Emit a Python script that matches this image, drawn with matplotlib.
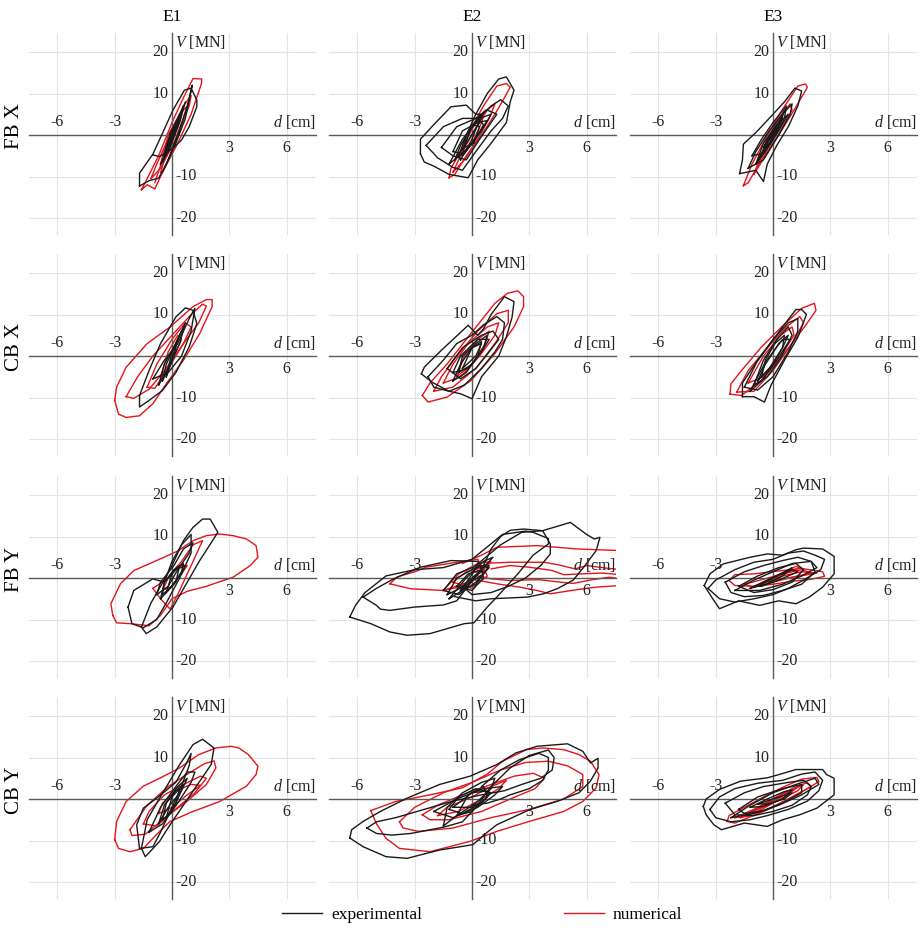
# Hysteresis loops: base shear V [MN] vs. displacement d [cm]
# rows = model/direction (FB X, CB X, FB Y, CB Y), columns = events E1..E3
# black = experimental, red = numerical. Vertices.

import matplotlib
matplotlib.use("Agg")
import matplotlib.pyplot as plt
from matplotlib.lines import Line2D

plt.rcParams['font.family'] = ['Liberation Serif', 'DejaVu Serif']
plt.rcParams['mathtext.fontset'] = 'custom'
plt.rcParams['mathtext.it'] = 'Liberation Serif:italic'
plt.rcParams['mathtext.rm'] = 'Liberation Serif'

col_titles = ['E1', 'E2', 'E3']
row_titles = ['FB X', 'CB X', 'FB Y', 'CB Y']
x_ticks = [-6, -3, 3, 6]
y_ticks = [-20, -10, 10, 20]
series_labels = ['experimental', 'numerical']

# ---- FB X ----
fbx_e1_exp = [
    [(-1.7, -12.3), (-1.7, -9.2), (-1.0, -4.6), (-0.5, 0.4), (0.05, 6.0), (0.65, 10.8), (1.0, 11.3), (1.3, 8.4),
     (1.3, 6.8), (0.9, 2.0), (0.5, -1.2), (0.05, -3.2), (-0.65, -5.2), (-1.0, -4.8)],
    [(-1.7, -12.3), (-1.2, -11.0), (-0.7, -10.4), (-0.3, -7.0), (0.2, -2.0), (0.7, 4.0), (1.06, 12.0), (0.8, 7.0),
     (0.3, 0.0), (-0.2, -6.0), (-0.5, -9.0)],
    [(-0.6, -7.0), (-0.2, -3.5), (0.3, 2.5), (0.6, 7.0), (0.4, 5.0), (-0.1, -1.0), (-0.4, -5.5), (-0.6, -7.0)],
    [(-0.4, -5.0), (0.0, -1.0), (0.3, 4.0), (0.1, 2.0), (-0.3, -2.5), (-0.4, -5.0)],
    [(-0.3, -4.0), (0.1, 0.0), (0.2, 3.0), (-0.1, 0.5), (-0.3, -4.0)],
    [(-0.2, -4.0), (0.2, 1.0), (0.4, 5.0), (0.1, 2.0), (-0.2, -4.0)],
    [(-0.5, -6.5), (-0.1, -3.0), (0.4, 3.0), (0.7, 8.0), (0.3, 3.0), (-0.3, -3.0), (-0.5, -6.5)],
]
fbx_e1_num = [
    [(-1.6, -13.2), (-1.3, -12.0), (-0.9, -13.0), (-0.5, -9.0), (0.3, -2.0), (1.0, 5.0), (1.55, 12.5), (1.55, 13.5),
     (1.1, 13.6), (0.6, 9.0), (0.0, 3.0), (-0.7, -5.0), (-1.3, -10.5), (-1.6, -13.2)],
    [(-1.1, -10.5), (-0.6, -8.0), (0.2, -1.0), (0.9, 7.0), (1.0, 9.5), (0.6, 7.0), (-0.1, 0.0), (-0.8, -7.0),
     (-1.1, -10.5)],
    [(-0.6, -7.0), (0.0, -3.0), (0.6, 4.0), (0.8, 7.0), (0.4, 5.0), (-0.2, 0.0), (-0.6, -7.0)],
    [(-0.9, -11.5), (-0.5, -6.0), (0.3, 2.0), (0.5, 5.0), (0.0, 0.0), (-0.6, -9.0)],
]
fbx_e2_exp = [
    [(-2.7, -4.5), (-2.5, -6.5), (-2.0, -7.5), (-1.2, -9.5), (-0.2, -10.3), (0.3, -6.0), (1.0, -2.0), (1.8, 3.0),
     (2.0, 8.0), (2.2, 10.8), (1.8, 14.0), (1.4, 13.5), (0.8, 10.0), (0.2, 5.0), (-0.3, 7.2), (-1.1, 6.8),
     (-2.0, 2.5), (-2.7, -1.0), (-2.7, -4.5)],
    [(-2.4, -2.5), (-1.8, -5.5), (-1.0, -7.8), (-0.5, -8.5), (0.2, -4.0), (1.0, 1.0), (1.6, 4.0), (1.9, 7.0),
     (1.5, 8.5), (1.0, 7.0), (0.3, 4.0), (-0.5, 4.0), (-1.5, 2.0), (-2.4, -2.5)],
    [(-1.6, -3.0), (-1.0, -5.0), (-0.3, -6.0), (0.4, -1.0), (1.0, 3.0), (1.3, 5.0), (0.8, 6.0), (0.2, 4.0),
     (-0.8, 2.0), (-1.6, -3.0)],
    [(-0.6, -6.0), (0.0, -1.0), (0.5, 5.0), (0.2, 5.0), (-0.3, 0.0), (-0.7, -5.0), (-0.6, -6.0)],
    [(-1.0, -4.0), (-0.4, -4.5), (0.3, 0.0), (0.8, 3.5), (0.3, 3.0), (-0.5, 1.0), (-1.0, -4.0)],
    [(-0.4, -3.0), (0.1, -2.0), (0.4, 2.0), (0.0, 2.5), (-0.4, -3.0)],
    [(-0.9, -6.0), (-0.3, -2.0), (0.4, 3.0), (0.6, 5.5), (0.0, 2.0), (-0.6, -2.5), (-0.9, -6.0)],
    [(-0.5, -5.0), (0.2, -1.0), (0.6, 2.5), (0.3, 4.0), (-0.3, 0.0), (-0.5, -5.0)],
    [(-1.2, -7.0), (-0.4, -4.0), (0.5, 1.0), (1.0, 5.0), (0.4, 4.0), (-0.5, -1.0), (-1.2, -7.0)],
]
fbx_e2_num = [
    [(-1.2, -10.3), (-0.9, -9.5), (-0.3, -5.0), (0.5, 0.0), (1.2, 5.0), (1.7, 9.0), (2.0, 11.5), (1.8, 12.4),
     (1.3, 11.8), (0.6, 7.0), (0.0, 2.0), (-0.6, -4.0), (-1.1, -8.0), (-1.2, -10.3)],
    [(-1.0, -9.0), (-0.4, -6.0), (0.3, -1.0), (0.9, 4.0), (1.2, 7.5), (0.8, 6.0), (0.1, 1.0), (-0.6, -5.0),
     (-1.0, -9.0)],
    [(-0.6, -5.0), (0.0, -2.0), (0.5, 3.0), (0.7, 6.0), (0.2, 3.0), (-0.4, -2.0), (-0.6, -5.0)],
]
fbx_e3_exp = [
    [(-1.75, -9.3), (-1.6, -6.0), (-1.55, -2.2), (-0.85, 0.8), (-0.1, 4.5), (0.6, 8.0), (1.15, 11.3), (1.5, 10.6),
     (1.3, 7.0), (0.8, 2.0), (0.2, -2.5), (-0.3, -7.0), (-0.5, -11.2), (-0.9, -8.5), (-1.4, -9.0), (-1.75, -9.3)],
    [(-1.3, -8.0), (-0.9, -4.0), (-0.2, 1.0), (0.5, 5.0), (1.0, 7.5), (0.9, 5.0), (0.3, 0.0), (-0.5, -6.0),
     (-1.3, -8.0)],
    [(-0.8, -6.0), (-0.3, -2.0), (0.3, 3.0), (0.6, 6.0), (0.4, 3.0), (-0.2, -2.0), (-0.8, -6.0)],
    [(-1.1, -5.0), (-0.6, -1.0), (0.0, 3.0), (0.7, 7.0), (0.6, 4.0), (0.0, -1.0), (-0.6, -4.5), (-1.1, -5.0)],
    [(-0.5, -4.0), (0.0, -1.0), (0.3, 2.0), (0.0, 1.0), (-0.5, -4.0)],
    [(-0.9, -7.0), (-0.4, -4.0), (0.3, 1.0), (0.8, 5.0), (0.3, 3.0), (-0.5, -2.0), (-0.9, -7.0)],
    [(-0.5, -3.0), (0.0, 0.0), (0.5, 4.0), (0.1, 2.0), (-0.5, -3.0)],
]
fbx_e3_num = [
    [(-1.55, -12.2), (-1.3, -11.5), (-0.6, -6.0), (0.3, 0.0), (1.1, 6.0), (1.8, 11.5), (1.7, 12.3), (1.3, 11.8),
     (0.4, 5.5), (-0.4, -1.0), (-1.1, -7.0), (-1.55, -12.2)],
    [(-1.0, -9.5), (-0.4, -5.0), (0.4, 1.0), (1.0, 6.0), (0.9, 7.5), (0.3, 4.0), (-0.4, -2.0), (-1.0, -9.5)],
    [(-0.7, -6.0), (-0.1, -2.0), (0.5, 3.0), (0.4, 4.5), (-0.2, 0.0), (-0.7, -6.0)],
]

# ---- CB X ----
cbx_e1_exp = [
    [(-1.7, -9.5), (-1.7, -12.3), (-1.2, -10.7), (-0.5, -8.3), (0.2, -4.0), (0.9, 2.2), (1.3, 7.8), (1.1, 11.0),
     (0.7, 11.6), (0.2, 9.4), (-0.6, 3.0), (-1.2, -3.5), (-1.7, -9.5)],
    [(-1.0, -5.5), (-0.2, -4.0), (0.5, 0.0), (1.0, 6.0), (1.2, 11.5), (0.9, 9.0), (0.3, 3.0), (-0.4, -1.0),
     (-1.0, -5.5)],
    [(-0.5, -6.0), (-0.1, -2.0), (0.3, 4.0), (0.5, 6.0), (0.2, 3.0), (-0.3, -2.0), (-0.5, -6.0)],
    [(-0.3, -5.0), (0.1, 0.0), (0.3, 4.0), (0.0, 1.0), (-0.3, -5.0)],
    [(-0.7, -7.0), (-0.2, -3.0), (0.4, 3.0), (0.7, 8.0), (0.3, 4.0), (-0.4, -2.0), (-0.7, -7.0)],
]
cbx_e1_num = [
    [(-3.0, -10.7), (-2.8, -14.0), (-2.4, -14.8), (-1.7, -14.4), (-1.0, -11.5), (-0.3, -6.7), (0.6, -1.0),
     (1.45, 5.4), (2.1, 11.9), (2.1, 13.6), (1.8, 13.6), (1.1, 11.9), (-0.1, 7.0), (-1.3, 3.0), (-2.4, -2.7),
     (-2.9, -7.5), (-3.0, -10.7)],
    [(-2.4, -9.8), (-2.0, -10.2), (-1.2, -8.0), (-0.3, -3.0), (0.6, 3.0), (1.4, 8.0), (1.8, 12.0), (1.6, 12.5),
     (1.0, 10.0), (0.0, 5.0), (-1.0, 0.0), (-1.8, -5.0), (-2.4, -9.8)],
    [(-1.3, -7.5), (-0.9, -7.8), (-0.2, -3.0), (0.6, 3.0), (1.0, 7.0), (0.7, 8.0), (0.0, 4.0), (-0.8, -2.0),
     (-1.3, -7.5)],
    [(-0.6, -5.0), (0.0, -1.0), (0.5, 4.0), (0.3, 5.0), (-0.2, 1.0), (-0.6, -5.0)],
]
cbx_e2_exp = [
    [(-2.65, -4.3), (-2.5, -2.7), (-1.6, 1.4), (-0.2, 7.4), (0.3, 5.0), (0.6, 6.5), (1.0, 10.0), (1.7, 14.3),
     (2.2, 13.1), (2.1, 9.4), (1.8, 4.6), (1.4, 0.0), (0.5, -5.0), (0.0, -10.3), (-0.6, -9.1), (-1.2, -8.5),
     (-2.1, -6.3), (-2.65, -4.3)],
    [(-2.3, -5.0), (-1.5, -1.0), (-0.8, 3.0), (0.0, 5.0), (0.6, 7.5), (1.3, 9.5), (1.7, 8.0), (1.6, 4.0),
     (1.2, 1.0), (0.5, -3.0), (-0.4, -7.0), (-1.2, -8.5), (-2.0, -7.5), (-2.3, -5.0)],
    [(-1.3, -3.0), (-0.6, -5.5), (0.2, -3.0), (0.9, 1.0), (1.4, 4.0), (1.1, 6.0), (0.5, 5.0), (-0.5, 2.0),
     (-1.3, -3.0)],
    [(-0.7, -4.0), (0.0, -2.0), (0.6, 2.0), (0.8, 5.0), (0.2, 3.0), (-0.5, 0.0), (-0.7, -4.0)],
    [(-1.0, -6.0), (-0.3, -4.0), (0.3, 0.0), (0.5, 3.5), (0.0, 2.0), (-0.6, -2.0), (-1.0, -6.0)],
    [(-1.0, -4.0), (-0.2, -3.0), (0.5, 1.0), (0.9, 4.0), (0.3, 4.0), (-0.6, 0.0), (-1.0, -4.0)],
    [(-0.5, -3.0), (0.2, 0.0), (0.5, 3.0), (0.0, 2.0), (-0.5, -3.0)],
]
cbx_e2_num = [
    [(-2.6, -9.5), (-2.3, -11.1), (-1.3, -9.9), (-0.05, -5.9), (1.2, 0.6), (2.2, 7.0), (2.7, 11.9), (2.7, 14.3),
     (2.4, 15.7), (1.85, 15.1), (1.2, 12.7), (-0.2, 4.6), (-1.3, -1.9), (-2.2, -6.5), (-2.6, -9.5)],
    [(-2.0, -8.5), (-1.0, -7.5), (0.2, -3.0), (1.2, 3.0), (1.9, 8.0), (1.9, 11.0), (1.3, 10.2), (0.3, 6.0),
     (-0.8, 0.0), (-1.6, -5.0), (-2.0, -8.5)],
    [(-1.5, -6.5), (-0.6, -5.0), (0.4, 0.0), (1.2, 5.0), (1.4, 8.0), (0.8, 7.0), (-0.2, 3.0), (-1.0, -2.0),
     (-1.5, -6.5)],
    [(-0.8, -5.0), (0.0, -2.0), (0.7, 3.0), (0.9, 6.0), (0.3, 4.0), (-0.4, 0.0), (-0.8, -5.0)],
]
cbx_e3_exp = [
    [(-1.6, -9.8), (-1.0, -9.8), (-0.45, -11.1), (-0.1, -7.0), (0.6, -1.0), (1.3, 4.5), (1.75, 10.0), (1.5, 11.2),
     (1.2, 11.2), (0.5, 7.0), (-0.3, 2.0), (-1.1, -3.0), (-1.6, -6.5), (-1.6, -9.8)],
    [(-1.5, -7.5), (-0.8, -8.2), (0.0, -5.0), (0.8, 1.0), (1.3, 6.0), (1.3, 9.0), (0.8, 8.0), (0.0, 4.0),
     (-0.8, -1.0), (-1.5, -7.5)],
    [(-1.0, -7.0), (-0.3, -5.0), (0.4, -0.5), (1.0, 5.0), (0.8, 7.0), (0.2, 4.0), (-0.5, -1.0), (-1.0, -7.0)],
    [(-0.6, -5.0), (0.0, -2.0), (0.5, 2.0), (0.6, 5.0), (0.1, 3.0), (-0.4, -1.0), (-0.6, -5.0)],
    [(-0.8, -6.0), (-0.2, -3.0), (0.5, 2.0), (0.8, 5.0), (0.3, 3.0), (-0.4, -2.0), (-0.8, -6.0)],
    [(-1.2, -8.5), (-0.6, -6.0), (0.2, -1.0), (0.9, 4.0), (0.5, 4.0), (-0.4, -1.5), (-1.2, -8.5)],
]
cbx_e3_num = [
    [(-2.25, -9.2), (-1.65, -9.5), (-0.6, -5.9), (0.45, -0.2), (1.65, 7.0), (2.25, 11.0), (2.17, 12.7),
     (1.5, 11.5), (0.45, 7.0), (-0.6, 2.2), (-1.65, -3.5), (-2.2, -6.7), (-2.25, -9.2)],
    [(-1.9, -8.7), (-1.0, -8.5), (0.0, -3.5), (1.0, 3.0), (1.6, 8.0), (1.4, 9.5), (0.7, 7.0), (-0.3, 2.0),
     (-1.3, -3.5), (-1.9, -8.7)],
    [(-1.3, -6.5), (-0.5, -5.0), (0.4, 0.0), (1.1, 5.0), (1.0, 7.0), (0.4, 5.0), (-0.5, 0.0), (-1.3, -6.5)],
]

# ---- FB Y ----
fby_e1_exp = [
    [(-1.6, -11.8), (-1.35, -13.4), (-0.8, -11.8), (0.05, -7.0), (0.75, -1.4), (1.45, 4.2), (2.4, 11.0),
     (2.0, 14.2), (1.6, 14.2), (1.1, 12.2), (0.6, 9.0), (0.0, 3.0), (-0.6, -2.0), (-1.1, -6.0), (-1.6, -11.8)],
    [(-2.3, -7.0), (-2.1, -11.0), (-1.5, -12.0), (-0.8, -10.0), (-0.3, -6.0), (0.4, 0.0), (1.0, 6.0),
     (1.0, 10.5), (0.5, 8.0), (0.0, 4.0), (-0.4, -1.0), (-1.0, -0.2), (-2.0, -3.0), (-2.3, -7.0)],
    [(-0.8, -4.0), (-0.2, -2.0), (0.3, 2.0), (0.9, 6.0), (1.1, 8.5), (0.6, 7.0), (0.1, 3.0), (-0.6, -1.0),
     (-0.8, -4.0)],
    [(-0.5, -4.0), (0.0, -2.0), (0.5, 1.5), (0.6, 3.5), (0.1, 2.0), (-0.4, -1.0), (-0.5, -4.0)],
    [(-0.3, -3.5), (0.2, -1.0), (0.4, 3.0), (0.0, 1.0), (-0.3, -3.5)],
    [(-0.6, -5.0), (-0.2, -3.0), (0.4, 0.5), (0.7, 3.0), (0.2, 2.0), (-0.4, -1.0), (-0.6, -5.0)],
]
fby_e1_num = [
    [(-3.1, -9.0), (-2.9, -10.8), (-2.2, -11.0), (-1.2, -11.5), (-0.6, -9.0), (0.0, -5.0), (0.8, -3.2),
     (1.8, -2.0), (3.2, 0.2), (4.1, 3.0), (4.5, 5.0), (4.4, 7.8), (3.9, 9.4), (3.2, 10.2), (2.5, 10.6),
     (1.8, 10.2), (1.1, 9.0), (0.3, 6.5), (-1.2, 3.4), (-2.0, 1.8), (-2.7, -1.4), (-3.2, -6.2), (-3.1, -9.0)],
    [(-1.0, -2.5), (-0.6, -5.0), (-0.1, -7.5), (0.3, -4.0), (0.8, 1.0), (1.3, 6.0), (1.6, 9.0), (1.1, 8.0),
     (0.5, 4.0), (-0.2, 0.0), (-1.0, -2.5)],
    [(-0.5, -3.0), (0.0, -2.0), (0.5, 1.0), (0.8, 3.0), (0.3, 3.0), (-0.2, 0.0), (-0.5, -3.0)],
]
fby_e2_exp = [
    [(-6.4, -9.4), (-5.3, -11.0), (-4.3, -13.0), (-3.4, -13.8), (-2.2, -13.4), (-0.4, -11.0), (0.1, -10.8),
     (0.8, -7.0), (1.3, -4.6), (2.4, 1.0), (3.2, 5.5), (4.0, 8.2), (4.0, 9.5), (3.2, 11.0), (2.8, 11.3),
     (1.6, 10.5), (0.8, 7.5), (0.0, 4.5), (-1.5, 2.5), (-3.0, 2.0), (-4.5, 0.5), (-5.6, -3.5), (-6.1, -6.6),
     (-6.4, -9.4)],
    [(0.2, 3.0), (1.5, 8.0), (2.6, 11.0), (3.7, 11.4), (5.15, 13.4), (6.0, 10.5), (6.4, 9.4), (6.7, 9.8),
     (6.5, 6.6), (5.85, 2.6), (5.3, -0.5), (4.5, -2.5), (3.75, -3.8), (2.9, -4.6), (2.0, -4.8), (1.0, -5.0),
     (0.2, -5.5), (-0.9, -4.5)],
    [(-0.5, -2.0), (0.5, 2.0), (1.0, 7.0), (1.5, 10.0), (2.0, 11.5), (2.7, 11.8), (3.7, 11.4), (4.1, 8.2),
     (4.1, 5.8), (3.6, 3.0), (2.8, 0.0), (1.9, -2.0), (1.0, -3.5), (0.0, -4.0), (-0.5, -2.0)],
    [(-5.7, -4.6), (-5.0, -6.6), (-4.8, -7.5), (-4.3, -7.8), (-3.0, -7.0), (-1.5, -6.5), (-0.8, -5.5),
     (-0.3, -2.5), (0.5, 2.0), (0.3, 4.0), (-1.1, 4.2), (-2.7, 2.6), (-4.1, -0.2), (-5.0, -2.5), (-5.7, -4.6)],
    [(-1.2, -5.0), (-0.5, -3.0), (0.5, 2.0), (1.1, 5.0), (0.6, 4.0), (-0.3, 0.0), (-1.2, -5.0)],
    [(-1.5, -3.0), (-0.7, -4.0), (0.2, -1.0), (0.9, 2.5), (0.3, 3.0), (-0.8, 1.0), (-1.5, -3.0)],
    [(-0.8, -2.0), (0.0, -3.0), (0.6, 0.0), (0.5, 2.0), (-0.2, 1.0), (-0.8, -2.0)],
    [(-1.3, -4.0), (-0.4, -2.0), (0.6, 1.0), (0.9, 3.0), (0.2, 2.5), (-0.8, 0.0), (-1.3, -4.0)],
    [(-0.6, -3.0), (0.2, -1.5), (0.7, 1.5), (0.1, 1.5), (-0.6, -3.0)],
]
fby_e2_num = [
    [(-4.3, -1.4), (-3.9, 0.3), (-3.0, 1.5), (-2.4, 2.6), (-0.8, 3.8), (0.3, 4.5), (0.6, 2.0), (-0.2, -1.0),
     (-1.5, -3.0), (-3.2, -2.6), (-4.3, -1.4)],
    [(-0.5, 3.5), (0.5, 5.5), (1.3, 7.4), (3.4, 7.8), (5.5, 7.0), (7.8, 6.6)],
    [(7.8, 2.0), (7.0, 2.4), (6.0, 3.0), (5.4, 2.2), (4.5, 3.2), (3.75, 3.8), (2.0, 3.8), (1.0, 3.6), (0.4, 2.8),
     (0.0, 1.5)],
    [(0.2, -0.5), (1.3, -1.4), (2.5, -2.2), (3.4, -3.0), (4.1, -3.8), (5.5, -2.8), (6.5, -2.2), (7.8, -1.8)],
    [(7.8, -0.2), (7.2, 0.2), (6.3, -0.4), (5.3, -1.3), (4.6, -1.0), (3.5, -0.4), (2.0, -0.6), (1.0, -0.2),
     (0.3, 0.5)],
    [(7.8, 0.8), (6.8, 1.2), (5.8, 1.0), (4.8, 0.8), (4.2, 1.8), (3.0, 2.6), (2.0, 3.0), (1.0, 2.2)],
    [(-1.5, -3.0), (-0.5, -2.0), (0.5, 1.5), (1.0, 4.0), (0.3, 3.5), (-0.7, 1.0), (-1.5, -3.0)],
    [(-1.0, -1.0), (0.0, -2.5), (0.8, 0.5), (0.6, 2.5), (-0.3, 1.5), (-1.0, -1.0)],
]
fby_e3_exp = [
    [(-3.6, -1.8), (-3.3, 1.0), (-2.6, 3.4), (-1.2, 5.0), (-0.3, 5.8), (0.5, 5.5), (1.2, 6.8), (1.6, 7.2),
     (2.6, 7.0), (3.2, 5.2), (3.2, 1.0), (2.6, -2.2), (1.9, -4.6), (1.2, -6.2), (0.3, -5.5), (-0.7, -6.6),
     (-1.8, -5.5), (-2.8, -7.4), (-3.1, -5.4), (-3.6, -1.8)],
    [(-3.4, -2.5), (-3.0, -0.5), (-2.0, 2.0), (-1.0, 3.8), (0.0, 4.5), (0.8, 6.0), (1.6, 6.5), (2.2, 5.5),
     (2.7, 4.5), (2.5, 2.0), (1.6, -0.5), (0.8, -2.5), (0.0, -4.0), (-1.0, -5.0), (-2.0, -5.8), (-2.8, -5.0),
     (-3.4, -2.5)],
    [(-2.5, -1.0), (-1.5, 1.5), (-0.5, 3.0), (0.5, 4.2), (1.3, 5.0), (2.0, 4.0), (2.2, 1.5), (1.5, -1.5),
     (0.5, -3.0), (-0.5, -4.2), (-1.5, -4.5), (-2.2, -3.5), (-2.5, -1.0)],
    [(-1.8, -2.0), (-0.8, 0.5), (0.3, 2.5), (1.2, 3.5), (1.6, 2.0), (1.0, -1.0), (0.0, -2.8), (-1.0, -3.5),
     (-1.8, -2.0)],
    [(-1.2, -2.5), (-0.3, -0.5), (0.6, 1.5), (1.0, 2.5), (0.5, 0.5), (-0.4, -1.5), (-1.2, -2.5)],
    [(-0.8, -2.0), (0.2, 0.5), (1.0, 2.0), (1.3, 1.5), (0.3, -0.5), (-0.6, -2.0), (-0.8, -2.0)],
    [(-2.0, -3.0), (-1.0, -0.5), (0.0, 1.5), (1.0, 3.5), (2.0, 4.0), (2.3, 2.5), (1.5, 0.5), (0.5, -1.5),
     (-0.7, -3.0), (-2.0, -3.0)],
]
fby_e3_num = [
    [(-2.3, -0.6), (-2.0, 0.8), (-1.0, 1.0), (0.5, 1.8), (1.5, 2.3), (2.6, 1.5), (2.7, 0.4), (2.0, -0.3),
     (1.0, -0.8), (0.0, -1.5), (-1.0, -2.0), (-2.0, -1.8), (-2.3, -0.6)],
    [(-1.5, -1.5), (-0.5, -0.3), (0.5, 1.0), (1.5, 2.0), (2.0, 1.2), (1.0, 0.2), (0.0, -1.0), (-1.0, -2.2),
     (-1.5, -1.5)],
    [(-1.0, -2.0), (0.0, 0.0), (1.2, 2.8), (1.4, 2.5), (0.3, 0.5), (-0.6, -1.5), (-1.0, -2.0)],
    [(-0.5, -1.0), (0.5, 0.5), (1.5, 1.5), (2.3, 1.2), (1.2, 0.3), (0.0, -0.6), (-0.5, -1.0)],
]

# ---- CB Y ----
cby_e1_exp = [
    [(-1.6, -11.9), (-1.4, -13.9), (-1.15, -12.7), (-0.65, -10.2), (-0.1, -6.2), (1.1, 1.9), (2.05, 8.3),
     (2.2, 12.3), (1.6, 14.4), (1.1, 13.1), (0.4, 8.3), (-0.65, 0.2), (-1.3, -5.0), (-1.6, -11.9)],
    [(-1.7, -11.9), (-1.85, -6.2), (-1.5, -2.2), (-0.8, 0.2), (0.2, 4.0), (0.8, 9.0), (1.0, 11.0), (0.9, 8.0),
     (0.4, 2.0), (-0.2, -4.0), (-0.6, -8.0), (-1.0, -11.5), (-1.7, -11.9)],
    [(-1.2, -8.0), (-0.5, -6.0), (0.3, -1.0), (1.0, 4.0), (1.2, 6.5), (0.8, 6.5), (0.2, 3.0), (-0.6, -2.0),
     (-1.2, -8.0)],
    [(-0.5, -5.0), (0.0, -3.0), (0.4, 1.0), (0.6, 3.5), (0.2, 2.0), (-0.3, -1.0), (-0.5, -5.0)],
    [(-0.3, -4.5), (0.2, -1.0), (0.4, 2.5), (0.0, 0.5), (-0.3, -4.5)],
    [(-0.7, -6.0), (-0.2, -2.0), (0.5, 2.0), (0.8, 5.0), (0.3, 3.0), (-0.4, -1.5), (-0.7, -6.0)],
]
cby_e1_num = [
    [(-3.0, -9.8), (-2.8, -11.9), (-2.2, -12.7), (-1.5, -11.9), (-0.8, -8.5), (-0.1, -5.4), (1.1, -3.0),
     (2.5, -0.6), (3.9, 3.1), (4.4, 5.9), (4.5, 7.9), (4.0, 10.7), (3.5, 12.3), (3.1, 12.7), (2.3, 12.3),
     (1.4, 10.7), (0.4, 7.5), (-0.6, 5.1), (-1.5, 3.1), (-2.4, -0.6), (-2.9, -5.4), (-3.0, -9.8)],
    [(-2.2, -7.4), (-2.1, -8.8), (-1.4, -8.5), (-0.5, -5.0), (0.8, -0.5), (1.8, 3.5), (2.3, 7.5), (2.2, 9.2),
     (1.7, 8.5), (0.8, 6.0), (-0.2, 3.0), (-1.3, -1.5), (-2.2, -7.4)],
    [(-1.5, -6.0), (-0.8, -6.5), (0.3, -2.0), (1.2, 1.5), (1.8, 5.0), (1.5, 5.5), (0.6, 3.5), (-0.4, 1.0),
     (-1.2, -3.0), (-1.5, -6.0)],
    [(-0.7, -3.5), (0.0, -2.0), (0.8, 1.0), (1.5, 3.3), (1.0, 3.5), (0.2, 2.0), (-0.5, -1.0), (-0.7, -3.5)],
]
cby_e2_exp = [
    [(-6.4, -9.4), (-5.7, -11.5), (-4.5, -13.9), (-3.4, -14.3), (-1.7, -12.3), (0.05, -11.0), (0.8, -8.0),
     (1.3, -6.2), (3.0, -2.6), (4.5, -0.5), (5.6, 1.5), (6.2, 4.3), (6.6, 7.5), (6.6, 9.8), (6.2, 8.7),
     (5.8, 11.5), (5.0, 13.3), (3.4, 12.7), (2.3, 11.1), (1.3, 8.3), (-0.1, 5.5), (-1.7, 3.5), (-3.4, 0.2),
     (-4.8, -3.0), (-5.7, -5.4), (-6.3, -7.4), (-6.4, -9.4)],
    [(-5.5, -7.0), (-5.0, -8.3), (-4.2, -8.7), (-3.2, -8.3), (-1.5, -6.8), (-0.5, -5.5), (0.2, -2.0), (1.0, 3.0),
     (2.0, 7.5), (3.0, 10.5), (4.0, 11.8), (4.3, 10.0), (4.2, 7.0), (3.6, 5.0), (2.6, 3.5), (1.7, 2.0),
     (0.5, 1.0), (-1.0, -0.5), (-2.5, -2.5), (-4.0, -4.5), (-5.0, -5.5), (-5.5, -7.0)],
    [(0.5, 3.0), (1.5, 7.0), (2.5, 9.5), (3.5, 11.0), (4.0, 10.0), (4.0, 7.0), (3.7, 4.5), (3.0, 2.5),
     (2.0, 1.0), (1.5, 0.0), (0.8, -1.0), (0.0, -1.5)],
    [(-1.5, -6.5), (-0.8, -4.0), (0.2, -1.0), (1.0, 2.5), (1.2, 5.0), (0.5, 4.0), (-0.5, 1.5), (-1.3, -2.0),
     (-1.5, -6.5)],
    [(-1.2, -2.5), (-0.5, -3.5), (0.5, -1.0), (1.0, 1.5), (0.2, 2.5), (-0.7, 0.5), (-1.2, -2.5)],
    [(-0.8, -4.0), (0.0, -3.0), (0.8, 0.5), (0.6, 3.0), (-0.2, 1.0), (-0.8, -4.0)],
    [(-1.0, -2.0), (0.0, -2.0), (0.7, 0.0), (0.9, 2.0), (0.0, 1.5), (-1.0, -2.0)],
    [(-2.0, -3.0), (-1.0, -4.5), (0.3, -2.0), (1.2, 1.0), (1.6, 3.0), (0.6, 2.5), (-0.8, 0.0), (-2.0, -3.0)],
]
cby_e2_num = [
    [(-5.3, -2.8), (-5.0, -6.0), (-4.5, -9.5), (-3.8, -11.9), (-2.2, -12.7), (-0.1, -10.2), (1.3, -7.8),
     (3.0, -5.4), (4.8, -3.0), (5.8, -0.6), (6.5, 2.7), (6.65, 5.9), (6.2, 9.1), (5.6, 10.7), (4.8, 11.9),
     (3.7, 12.3), (2.85, 11.9), (1.6, 9.1), (0.8, 6.0), (-0.5, 2.7), (-2.2, 1.0), (-4.0, -0.6), (-5.3, -2.8)],
    [(-3.8, -5.5), (-3.6, -7.0), (-2.8, -7.8), (-1.0, -7.0), (1.0, -4.5), (3.0, -2.5), (4.8, 0.0), (5.8, 3.0),
     (5.8, 5.9), (5.0, 8.0), (4.0, 9.1), (2.8, 8.8), (1.5, 7.0), (0.0, 4.0), (-1.5, 1.5), (-3.0, -2.0),
     (-3.8, -5.5)],
    [(-2.6, -3.8), (-2.2, -5.0), (-1.2, -5.0), (0.5, -3.0), (2.0, 0.0), (3.3, 2.5), (3.8, 5.0), (3.2, 6.2),
     (2.2, 5.5), (1.0, 3.5), (-0.5, 1.0), (-1.8, -1.5), (-2.6, -3.8)],
    [(-1.8, -4.0), (-1.3, -2.0), (0.0, 0.5), (1.0, 3.0), (1.8, 4.5), (1.4, 2.5), (0.5, 0.0), (-0.7, -3.0),
     (-1.8, -4.0)],
]
cby_e3_exp = [
    [(-3.65, -1.8), (-3.5, 0.0), (-2.8, 2.3), (-1.7, 4.3), (-0.3, 5.1), (0.4, 6.0), (1.2, 7.1), (2.6, 7.1),
     (2.8, 5.9), (3.2, 5.0), (3.2, 1.0), (2.3, -2.2), (1.4, -3.8), (0.5, -5.0), (-0.3, -6.6), (-1.5, -5.8),
     (-2.7, -7.4), (-3.1, -6.2), (-3.5, -3.8), (-3.65, -1.8)],
    [(-3.3, -2.5), (-2.8, 0.5), (-2.0, 2.5), (-0.8, 3.8), (0.5, 4.5), (1.5, 6.0), (2.2, 6.5), (2.6, 4.5),
     (2.4, 2.0), (1.8, -0.5), (0.8, -2.5), (-0.3, -4.0), (-1.2, -5.0), (-2.2, -5.5), (-3.0, -4.5), (-3.3, -2.5)],
    [(-2.5, -1.0), (-1.5, 1.5), (-0.5, 3.0), (0.8, 4.0), (1.6, 4.5), (2.0, 3.0), (1.8, 1.0), (1.0, -1.5),
     (0.0, -3.0), (-1.0, -4.0), (-2.0, -3.8), (-2.5, -1.0)],
    [(-1.8, -2.5), (-0.8, 0.5), (0.5, 2.5), (1.5, 3.5), (1.5, 1.5), (0.5, -1.0), (-0.5, -2.8), (-1.5, -3.5),
     (-1.8, -2.5)],
    [(-1.2, -2.0), (-0.3, 0.0), (0.6, 1.8), (1.0, 2.2), (0.5, 0.0), (-0.5, -1.8), (-1.2, -2.0)],
    [(-0.8, -1.2), (0.2, 0.3), (1.0, 1.5), (0.6, 0.0), (-0.3, -1.2), (-0.8, -1.2)],
    [(-2.2, -4.5), (-1.2, -1.5), (0.0, 1.5), (1.2, 3.5), (2.2, 5.0), (2.4, 3.5), (1.5, 1.0), (0.3, -1.5),
     (-1.0, -3.5), (-2.2, -4.5)],
]
cby_e3_num = [
    [(-2.4, -5.4), (-2.3, -4.0), (-1.5, -2.0), (-0.5, 0.5), (0.5, 2.8), (1.5, 4.8), (2.3, 5.2), (2.4, 4.2),
     (1.8, 2.5), (0.8, 0.0), (-0.3, -2.5), (-1.3, -4.5), (-2.0, -5.8), (-2.4, -5.4)],
    [(-2.0, -4.5), (-1.0, -2.5), (0.0, 0.0), (1.0, 2.5), (1.8, 4.0), (2.0, 3.0), (1.2, 1.0), (0.0, -2.0),
     (-1.0, -4.0), (-2.0, -4.5)],
    [(-1.3, -3.5), (-0.3, -1.0), (0.8, 1.5), (1.3, 3.0), (0.8, 1.0), (-0.3, -1.5), (-1.3, -3.5)],
    [(-0.8, -2.5), (0.0, 0.0), (0.8, 2.0), (0.4, 0.5), (-0.8, -2.5)],
    [(-1.7, -4.5), (-0.5, -1.5), (0.5, 1.0), (1.6, 3.5), (1.3, 2.0), (0.2, -0.5), (-0.8, -3.0), (-1.7, -4.5)],
]

exp_grid = [[fbx_e1_exp, fbx_e2_exp, fbx_e3_exp],
            [cbx_e1_exp, cbx_e2_exp, cbx_e3_exp],
            [fby_e1_exp, fby_e2_exp, fby_e3_exp],
            [cby_e1_exp, cby_e2_exp, cby_e3_exp]]
num_grid = [[fbx_e1_num, fbx_e2_num, fbx_e3_num],
            [cbx_e1_num, cbx_e2_num, cbx_e3_num],
            [fby_e1_num, fby_e2_num, fby_e3_num],
            [cby_e1_num, cby_e2_num, cby_e3_num]]

W, H = 924, 933
EXP_C = '#1a1a1a'
NUM_C = '#e3141b'
AX_C = '#5a5a5a'
TXT_C = '#222222'
FS = 11.5

fig = plt.figure(figsize=(W / 100, H / 100), dpi=100)

x0s = [172, 472, 773]       # pixel position of the origin, columns
y0s = [135, 356, 578, 799]  # rows
xlim = (-7.5, 7.55)
ylim = (-24.0, 24.5)
px_x = 19.1   # px per cm
px_y = 4.15   # px per MN

for r in range(4):
    for c in range(3):
        left = x0s[c] + xlim[0] * px_x
        top = y0s[r] - ylim[1] * px_y
        w = (xlim[1] - xlim[0]) * px_x
        h = (ylim[1] - ylim[0]) * px_y
        ax = fig.add_axes([left / W, 1 - (top + h) / H, w / W, h / H])
        ax.set_xlim(*xlim)
        ax.set_ylim(*ylim)
        ax.patch.set_alpha(0)
        for s in ['top', 'right']:
            ax.spines[s].set_visible(False)
        ax.spines['left'].set_position(('data', 0))
        ax.spines['bottom'].set_position(('data', 0))
        for s in ['left', 'bottom']:
            ax.spines[s].set_color(AX_C)
            ax.spines[s].set_linewidth(1.0)
        ax.set_xticks(x_ticks)
        ax.set_yticks(y_ticks)
        ax.tick_params(length=0, labelbottom=False, labelleft=False)
        ax.grid(True, color='#e4e4e4', lw=0.8)
        ax.set_axisbelow(True)

        for loop in exp_grid[r][c]:
            ax.plot([p[0] for p in loop], [p[1] for p in loop], color=EXP_C, lw=1.0, zorder=3)
        for loop in num_grid[r][c]:
            ax.plot([p[0] for p in loop], [p[1] for p in loop], color=NUM_C, lw=1.0, zorder=2)

        # tick labels: negatives above / right of the axis, positives below / left
        for t in x_ticks:
            if t < 0:
                ax.text(t, 1.2, str(t), ha='center', va='bottom', fontsize=FS, color=TXT_C)
            else:
                ax.text(t, -1.3, str(t), ha='center', va='top', fontsize=FS, color=TXT_C)
        for t in y_ticks:
            if t > 0:
                ax.text(-0.2, t, str(t), ha='right', va='center', fontsize=FS, color=TXT_C)
            else:
                ax.text(0.2, t, str(t), ha='left', va='center', fontsize=FS, color=TXT_C)
        ax.text(0.15, 22.4, r'$V$ [MN]', ha='left', va='center', fontsize=FS, color=TXT_C)
        ax.text(7.55, 1.0, r'$d$ [cm]', ha='right', va='bottom', fontsize=FS, color=TXT_C)

for c, t in enumerate(col_titles):
    fig.text(x0s[c] / W, 1 - 17 / H, t, ha='center', va='center', fontsize=12.5)
for r, t in enumerate(row_titles):
    fig.text(15 / W, 1 - (y0s[r] - 9) / H, t, ha='center', va='center', fontsize=15, rotation=90)

handles = [Line2D([], [], color=EXP_C, lw=1.0), Line2D([], [], color=NUM_C, lw=1.0)]
fig.legend(handles, series_labels, loc='center', bbox_to_anchor=(0.522, 1 - 915 / H), ncol=2,
           frameon=False, fontsize=12.5, handlelength=2.3, handletextpad=0.5, columnspacing=8.2)

fig.savefig('out.png', dpi=100)
